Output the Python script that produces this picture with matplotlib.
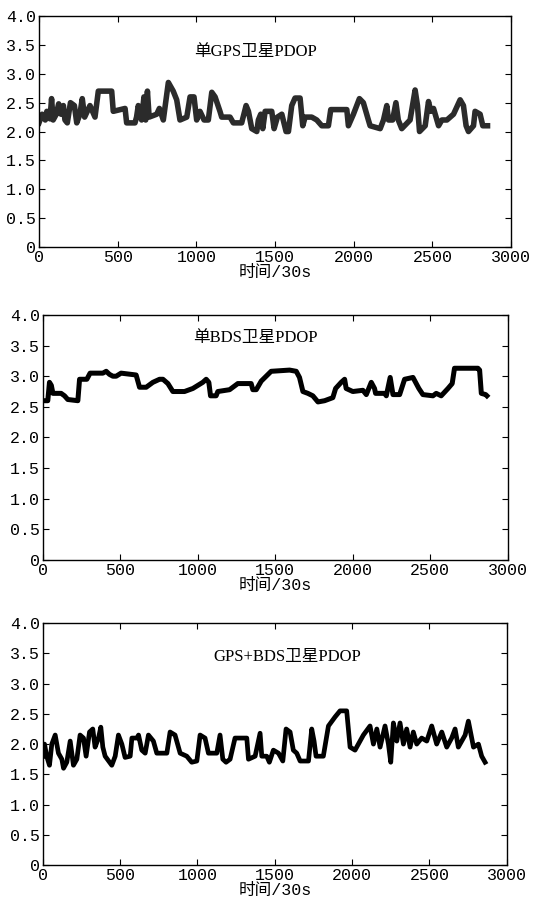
import numpy as np
import matplotlib.pyplot as plt

# PDOP values, time index in 30 s epochs
gps_t = [0, 20, 40, 50, 70, 80, 90, 110, 125, 140, 155, 165, 180, 200, 225, 240, 260, 275,
         290, 324, 356, 377, 462, 472, 547, 557, 610, 620, 631, 652, 667, 678, 689, 700,
         748, 765, 790, 822, 853, 875, 896, 939, 960, 985, 1002, 1023, 1049, 1076, 1098,
         1119, 1150, 1161, 1214, 1235, 1288, 1316, 1331, 1352, 1384, 1394, 1409, 1422,
         1437, 1479, 1494, 1515, 1543, 1570, 1585, 1606, 1627, 1659, 1676, 1691, 1733,
         1765, 1797, 1839, 1854, 1956, 1966, 1998, 2036, 2061, 2093, 2104, 2168, 2189,
         2210, 2221, 2247, 2268, 2283, 2305, 2358, 2390, 2405, 2418, 2454, 2475, 2490,
         2507, 2539, 2560, 2592, 2634, 2676, 2697, 2714, 2729, 2761, 2771, 2803, 2820, 2850]
gps_pdop = [2.15, 2.3, 2.2, 2.35, 2.22, 2.57, 2.2, 2.3, 2.48, 2.3, 2.45, 2.2, 2.15, 2.5, 2.45,
            2.15, 2.3, 2.57, 2.25, 2.45, 2.25, 2.7, 2.7, 2.35, 2.4, 2.15, 2.15, 2.25, 2.45,
            2.2, 2.6, 2.2, 2.7, 2.25, 2.3, 2.4, 2.2, 2.85, 2.7, 2.55, 2.2, 2.25, 2.6, 2.6,
            2.2, 2.35, 2.2, 2.2, 2.68, 2.6, 2.35, 2.25, 2.25, 2.15, 2.15, 2.45, 2.35, 2.05,
            2.0, 2.2, 2.3, 2.05, 2.35, 2.35, 2.05, 2.25, 2.3, 2.0, 2.0, 2.45, 2.58, 2.58,
            2.1, 2.25, 2.25, 2.2, 2.1, 2.1, 2.38, 2.38, 2.1, 2.3, 2.57, 2.5, 2.2, 2.1, 2.05,
            2.2, 2.45, 2.2, 2.2, 2.5, 2.2, 2.05, 2.2, 2.72, 2.45, 2.0, 2.1, 2.52, 2.35, 2.4,
            2.1, 2.2, 2.2, 2.3, 2.55, 2.45, 2.1, 2.0, 2.1, 2.35, 2.3, 2.1, 2.1]

bds_t = [0, 32, 43, 55, 65, 118, 140, 161, 226, 237, 284, 305, 387, 409, 430, 452, 473, 505,
         602, 624, 667, 710, 753, 775, 807, 839, 914, 968, 1032, 1054, 1071, 1082, 1118,
         1129, 1205, 1258, 1344, 1355, 1377, 1409, 1473, 1592, 1635, 1656, 1678, 1710,
         1742, 1775, 1818, 1871, 1889, 1925, 1947, 1957, 2000, 2065, 2087, 2119, 2140,
         2147, 2205, 2216, 2241, 2259, 2302, 2334, 2388, 2426, 2452, 2517, 2538, 2570,
         2614, 2641, 2656, 2807, 2818, 2829, 2857, 2865]
bds_pdop = [2.6, 2.6, 2.9, 2.85, 2.72, 2.72, 2.68, 2.62, 2.6, 2.95, 2.95, 3.05, 3.05, 3.08,
            3.03, 3.0, 3.0, 3.05, 3.02, 2.82, 2.82, 2.9, 2.95, 2.95, 2.88, 2.75, 2.75, 2.8,
            2.9, 2.95, 2.9, 2.68, 2.68, 2.75, 2.78, 2.88, 2.88, 2.78, 2.78, 2.92, 3.08, 3.1,
            3.08, 2.98, 2.75, 2.72, 2.68, 2.58, 2.6, 2.65, 2.8, 2.9, 2.95, 2.8, 2.75, 2.77,
            2.7, 2.9, 2.8, 2.72, 2.72, 2.68, 2.98, 2.7, 2.7, 2.95, 2.98, 2.8, 2.7, 2.68,
            2.72, 2.68, 2.8, 2.88, 3.13, 3.13, 3.1, 2.72, 2.7, 2.68]

com_t = [0, 11, 25, 43, 58, 80, 101, 123, 134, 155, 177, 198, 220, 241, 263, 280, 302, 323,
         338, 360, 375, 388, 403, 446, 468, 489, 511, 532, 565, 576, 608, 619, 640, 662,
         683, 715, 737, 802, 823, 855, 888, 931, 963, 996, 1017, 1049, 1071, 1125, 1146,
         1164, 1185, 1211, 1243, 1319, 1330, 1373, 1405, 1416, 1448, 1465, 1491, 1524,
         1552, 1573, 1599, 1620, 1642, 1664, 1718, 1739, 1754, 1767, 1814, 1847, 1890,
         1922, 1965, 1987, 2019, 2073, 2116, 2138, 2160, 2181, 2213, 2235, 2250, 2267,
         2289, 2310, 2332, 2353, 2375, 2396, 2418, 2450, 2483, 2515, 2547, 2580, 2612,
         2644, 2666, 2687, 2731, 2752, 2785, 2817, 2838, 2860]
com_pdop = [1.8, 2.0, 1.8, 1.65, 2.0, 2.15, 1.85, 1.75, 1.6, 1.7, 2.05, 1.65, 1.75, 2.15,
            2.1, 1.8, 2.2, 2.25, 1.95, 2.1, 2.28, 1.95, 1.8, 1.65, 1.8, 2.15, 2.0, 1.78, 1.8,
            2.1, 2.1, 2.15, 1.9, 1.85, 2.15, 2.05, 1.85, 1.85, 2.2, 2.15, 1.85, 1.8, 1.7,
            1.72, 2.15, 2.1, 1.85, 1.85, 2.15, 1.75, 1.7, 1.75, 2.1, 2.1, 1.75, 1.8, 2.18,
            1.8, 1.8, 1.7, 1.9, 1.85, 1.72, 2.25, 2.2, 1.9, 1.85, 1.72, 1.72, 2.25, 2.05,
            1.8, 1.8, 2.3, 2.45, 2.55, 2.55, 1.95, 1.9, 2.15, 2.3, 2.0, 2.25, 1.95, 2.3, 2.0,
            1.7, 2.35, 2.05, 2.35, 2.0, 2.25, 1.95, 2.2, 2.0, 2.1, 2.05, 2.3, 2.0, 2.2, 1.95,
            2.1, 2.25, 1.95, 2.15, 2.38, 1.95, 2.0, 1.8, 1.7]

titles = ['单GPS卫星PDOP', '单BDS卫星PDOP', 'GPS+BDS卫星PDOP']
title_pos = [(1373, 3.38), (1373, 3.62), (1578, 3.44)]
yticks = [0, 0.5, 1.0, 1.5, 2.0, 2.5, 3.0, 3.5, 4.0]
ylabels = ['0', '0.5', '1.0', '1.5', '2.0', '2.5', '3.0', '3.5', '4.0']
xticks = [0, 500, 1000, 1500, 2000, 2500, 3000]

mono = ['Liberation Mono', 'Noto Sans CJK SC']
serif = ['Liberation Serif', 'Noto Sans CJK SC']

fig = plt.figure(figsize=(5.49, 9.09), dpi=100)
boxes = [[0.071, 0.7283, 0.860, 0.254],
         [0.078, 0.384, 0.847, 0.2695],
         [0.078, 0.0484, 0.845, 0.266]]
series = [(gps_t, gps_pdop, '#2b2b2b', 4.0),
          (bds_t, bds_pdop, 'black', 3.6),
          (com_t, com_pdop, 'black', 3.4)]

for i in range(3):
    ax = fig.add_axes(boxes[i])
    t, v, c, lw = series[i]
    ax.plot(t, v, color=c, lw=lw, solid_joinstyle='round')
    ax.set_xlim(0, 3000)
    ax.set_ylim(0, 4)
    ax.set_xticks(xticks)
    ax.set_xticklabels([str(x) for x in xticks], family=mono, fontsize=12)
    ax.set_yticks(yticks)
    ax.set_yticklabels(ylabels, family=mono, fontsize=12)
    ax.tick_params(direction='in', top=True, right=True, length=4, pad=2)
    ax.set_xlabel('时间/30s', family=mono, fontsize=12, labelpad=0)
    ax.text(title_pos[i][0], title_pos[i][1], titles[i], family=serif, fontsize=12,
            ha='center', va='center')
    for s in ax.spines.values():
        s.set_linewidth(1.0)

fig.savefig('out.png', dpi=100)
